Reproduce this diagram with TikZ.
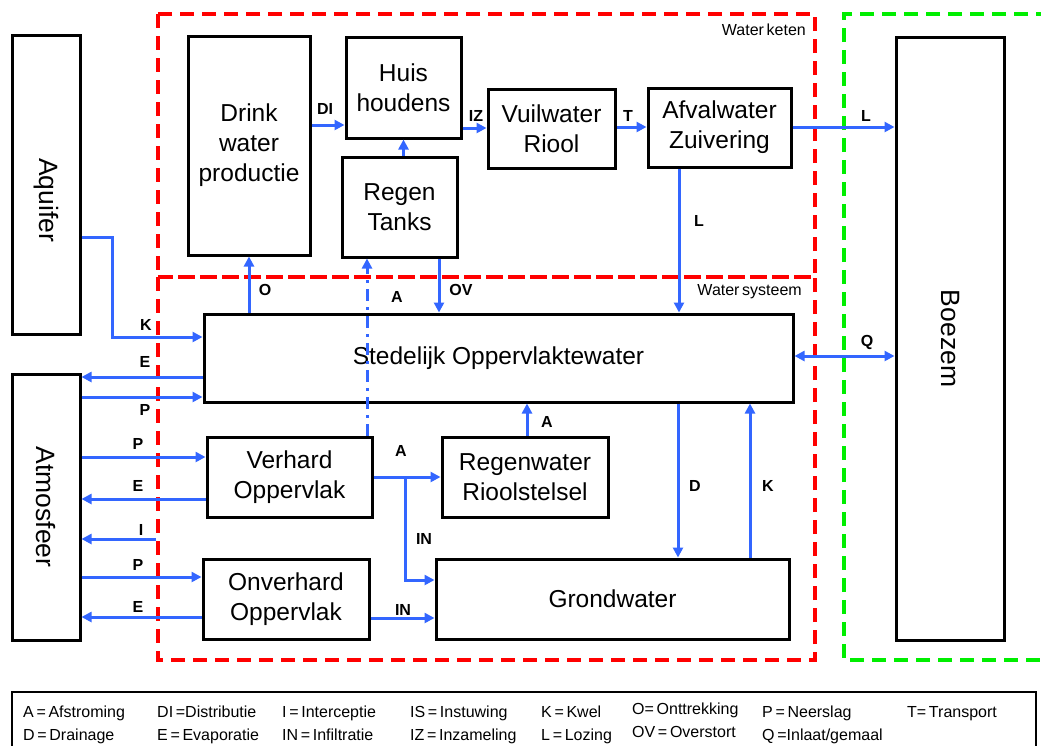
\documentclass[tikz,border=0pt]{standalone}
\usepackage{fontspec}
\setmainfont{Liberation Sans}
\newfontfamily\legendfam{Liberation Sans}[WordSpace=0.6]
\usetikzlibrary{arrows.meta, calc}
\definecolor{wsblue}{HTML}{3366FF}
\definecolor{wsred}{HTML}{FF0000}
\definecolor{wsgreen}{HTML}{00EE00}
\newcommand{\boxfont}{\fontsize{24.5}{30}\selectfont}
\newcommand{\sidefont}{\fontsize{26.5}{30}\selectfont}
\newcommand{\flowfont}{\fontsize{16}{18}\selectfont\bfseries}
\newcommand{\legfont}{\legendfam\fontsize{16}{18}\selectfont}

\begin{document}
\begin{tikzpicture}[x=1pt, y=-1pt,
    blok/.style={draw=black, line width=3pt, fill=white, align=center, font=\boxfont, inner sep=0pt},
    sidetxt/.style={rotate=-90, font=\sidefont, inner sep=0pt},
    flow/.style={wsblue, line width=3pt, -{Triangle[length=10pt, width=10pt]}},
    flowboth/.style={flow, {Triangle[length=10pt, width=10pt]}-{Triangle[length=10pt, width=10pt]}},
    flowdd/.style={flow, dash pattern=on 12pt off 6pt on 3pt off 6pt},
    flowlbl/.style={font=\flowfont, inner sep=0pt},
    grens/.style={line width=3.2pt, dash pattern=on 14pt off 8pt},
    legtxt/.style={font=\legfont, anchor=base west, inner sep=0pt}]
    \useasboundingbox (0,0) rectangle (1041,745);
    % keten / systeem / boezem grenzen
    \draw[grens, wsred] (158,14) rectangle (815,277);
    \draw[grens, wsred] (158,277) rectangle (815,660);
    \draw[grens, wsgreen] (1050,14) -- (844,14) -- (844,660) -- (1050,660);
    \node[font=\legfont, anchor=base east, inner sep=0pt] (ketenlbl) at (806,35) {Water keten};
    \node[font=\legfont, anchor=base east, inner sep=0pt] (systeemlbl) at (802,295) {Water systeem};
    % blokken
    \node[blok, minimum width=68pt, minimum height=299pt] (aquifer) at (46,184.5) {};
    \node[sidetxt] (aquifertxt) at (46,200) {Aquifer};
    \node[blok, minimum width=68pt, minimum height=266pt] (atmos) at (46,507) {};
    \node[sidetxt] (atmostxt) at (atmos) {Atmosfeer};
    \node[blok, minimum width=108pt, minimum height=603pt] (boezem) at (950,338.5) {};
    \node[sidetxt] (boezemtxt) at (boezem) {Boezem};
    \node[blok, minimum width=122pt, minimum height=219pt] (drink) at (249,145.5) {Drink\\water\\productie};
    \node[blok, minimum width=115pt, minimum height=101pt] (huis) at (403.5,87.5) {Huis\\houdens};
    \node[blok, minimum width=115pt, minimum height=100pt] (tanks) at (399.5,207) {Regen\\Tanks};
    \node[blok, minimum width=127pt, minimum height=79pt] (riool) at (551.5,128.5) {Vuilwater\\Riool};
    \node[blok, minimum width=143pt, minimum height=79pt] (zuiv) at (719.5,127.5) {Afvalwater\\Zuivering};
    \node[blok, minimum width=589pt, minimum height=88pt] (opp) at (498.5,358) {Stedelijk Oppervlaktewater};
    \node[blok, minimum width=165pt, minimum height=80pt] (verhard) at (289.5,477) {Verhard\\Oppervlak};
    \node[blok, minimum width=166pt, minimum height=80pt] (onverhard) at (286,599) {Onverhard\\Oppervlak};
    \node[blok, minimum width=166pt, minimum height=80pt] (rwriool) at (525,477) {Regenwater\\Rioolstelsel};
    \node[blok, minimum width=353pt, minimum height=80pt] (grond) at (612.5,599) {Grondwater};
    % stromen
    \coordinate (icept) at (156,539);
    \coordinate (split) at (405,477);
    \draw[flow] (drink.east |- 0,125) -- (huis.west |- 0,125);
    \draw[flow] (huis.east |- 0,128) -- (riool.west |- 0,128);
    \draw[flow] (riool.east |- 0,127) -- (zuiv.west |- 0,127);
    \draw[flow] (zuiv.east |- 0,127) -- (boezem.west |- 0,127);
    \draw[flow] (tanks.north -| huis) -- (huis.south);
    \draw[flow] (zuiv.south -| 679,0) -- (opp.north -| 679,0);
    \draw[flow] (opp.north -| drink) -- (drink.south);
    \draw[flowdd] (verhard.north -| 367,0) -- (tanks.south -| 367,0);
    \draw[flow] (tanks.south -| 439,0) -- (opp.north -| 439,0);
    \draw[flow] (aquifer.east |- 0,237) -| (112,337) -- (opp.west |- 0,337);
    \draw[flow] (opp.west |- 0,377) -- (atmos.east |- 0,377);
    \draw[flow] (atmos.east |- 0,397) -- (opp.west |- 0,397);
    \draw[flow] (atmos.east |- 0,457) -- (verhard.west |- 0,457);
    \draw[flow] (verhard.west |- 0,499) -- (atmos.east |- 0,499);
    \draw[flow] (icept) -- (atmos.east |- icept);
    \draw[flow] (atmos.east |- 0,577) -- (onverhard.west |- 0,577);
    \draw[flow] (onverhard.west |- 0,617) -- (atmos.east |- 0,617);
    \draw[flow] (onverhard.east |- 0,618) -- (grond.west |- 0,618);
    \draw[flow] (verhard.east) -- (rwriool.west);
    \draw[flow] (split) |- (grond.west |- 0,580);
    \draw[flow] (rwriool.north -| 527,0) -- (opp.south -| 527,0);
    \draw[flow] (opp.south -| 678,0) -- (grond.north -| 678,0);
    \draw[flow] (grond.north -| 750,0) -- (opp.south -| 750,0);
    \draw[flowboth] (opp.east |- 0,356) -- (boezem.west |- 0,356);
    % stroom labels
    \node[flowlbl] (lDI) at (325,109) {DI};
    \node[flowlbl] (lIZ) at (476,116) {IZ};
    \node[flowlbl] (lT) at (628,115.5) {T};
    \node[flowlbl] (lL1) at (866,116) {L};
    \node[flowlbl] (lL2) at (699,221) {L};
    \node[flowlbl] (lO) at (265,290) {O};
    \node[flowlbl] (lA1) at (397,297) {A};
    \node[flowlbl] (lOV) at (461,290) {OV};
    \node[flowlbl] (lK1) at (146,325) {K};
    \node[flowlbl] (lE1) at (145,362) {E};
    \node[flowlbl] (lP1) at (145,410) {P};
    \node[flowlbl] (lP2) at (138,444) {P};
    \node[flowlbl] (lE2) at (138,486) {E};
    \node[flowlbl] (lI) at (141,530) {I};
    \node[flowlbl] (lP3) at (138,565) {P};
    \node[flowlbl] (lE3) at (138,607) {E};
    \node[flowlbl] (lIN1) at (403,610) {IN};
    \node[flowlbl] (lA2) at (401,451) {A};
    \node[flowlbl] (lIN2) at (424,539) {IN};
    \node[flowlbl] (lA3) at (547,422) {A};
    \node[flowlbl] (lD) at (695,486) {D};
    \node[flowlbl] (lK2) at (768,486) {K};
    \node[flowlbl] (lQ) at (867,342) {Q};
    % legenda
    \draw[line width=2pt] (12,692) rectangle (1036,760);
    \foreach \x/\y/\t/\n in {23/717/{A = Afstroming}/a, 157/717/{DI =Distributie}/di,
        282/717/{I = Interceptie}/i, 410/717/{IS = Instuwing}/is, 541/717/{K = Kwel}/k,
        632/714/{O= Onttrekking}/o, 762/717/{P = Neerslag}/p, 907/717/{T= Transport}/t,
        23/740/{D = Drainage}/d, 157/740/{E = Evaporatie}/e, 282/740/{IN = Infiltratie}/in,
        410/740/{IZ = Inzameling}/iz, 541/740/{L = Lozing}/l, 632/737/{OV = Overstort}/ov,
        762/740/{Q =Inlaat/gemaal}/q}
      \node[legtxt] (leg-\n) at (\x,\y) {\t};
\end{tikzpicture}
\end{document}
